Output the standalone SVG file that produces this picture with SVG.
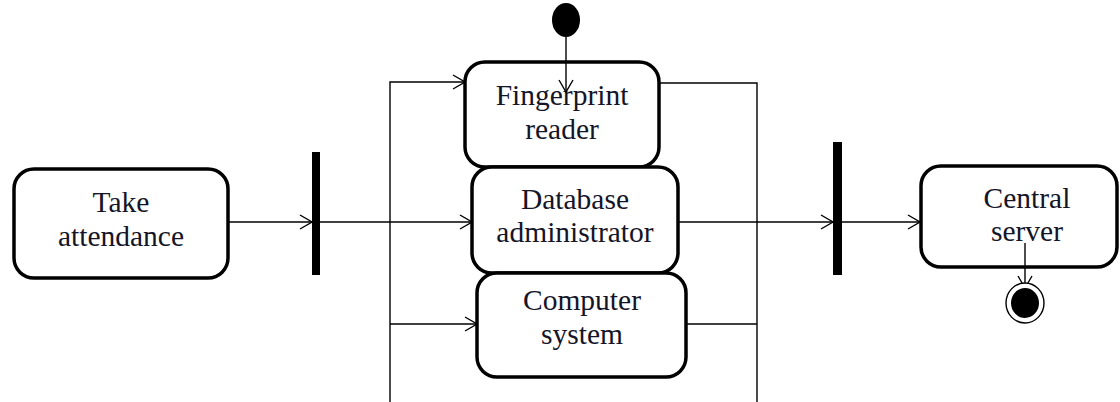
<svg xmlns="http://www.w3.org/2000/svg" width="1120" height="402" viewBox="0 0 1120 402">
<defs>
<marker id="arr" markerUnits="userSpaceOnUse" markerWidth="14" markerHeight="16" refX="13" refY="8" orient="auto">
<path d="M1,1 L13,8 L1,15" fill="none" stroke="#000" stroke-width="1.4"/>
</marker>
<style>
.box{fill:#fff;stroke:#000;stroke-width:3.5}
.t{font-family:"Liberation Serif","Times New Roman",serif;font-size:29.5px;fill:#151528;text-anchor:middle}
.c{fill:none;stroke:#000;stroke-width:1.4}
</style>
</defs>
<rect width="1120" height="402" fill="#fff"/>
<g id="connectors">
<path class="c" d="M228,222 H312" marker-end="url(#arr)"/>
<path class="c" d="M320,222 H472" marker-end="url(#arr)"/>
<path class="c" d="M390,402 V82 H465" marker-end="url(#arr)"/>
<path class="c" d="M390,324 H477" marker-end="url(#arr)"/>
<path class="c" d="M659,83 H757 V402"/>
<path class="c" d="M686,324 H757"/>
<path class="c" d="M678,222 H833" marker-end="url(#arr)"/>
<path class="c" d="M842,222 H920" marker-end="url(#arr)"/>
</g>
<g id="take-attendance">
<rect class="box" x="14" y="169" width="214" height="109" rx="20"/>
<text class="t" x="121" y="212">Take</text>
<text class="t" x="121" y="246">attendance</text>
</g>
<g id="fork-bar"><rect x="312" y="152" width="8" height="123" fill="#000"/></g>
<g id="fingerprint-reader">
<rect class="box" x="465" y="62" width="194" height="105" rx="20"/>
<text class="t" x="562" y="105">Fingerprint</text>
<text class="t" x="562" y="139">reader</text>
</g>
<g id="database-administrator">
<rect class="box" x="472" y="167" width="206" height="106" rx="20"/>
<text class="t" x="575" y="209">Database</text>
<text class="t" x="575" y="242">administrator</text>
</g>
<g id="computer-system">
<rect class="box" x="477" y="273" width="209" height="104" rx="20"/>
<text class="t" x="582" y="310">Computer</text>
<text class="t" x="582" y="344">system</text>
</g>
<g id="join-bar"><rect x="833" y="142" width="9" height="133" fill="#000"/></g>
<g id="central-server">
<rect class="box" x="921" y="166" width="196" height="101" rx="20"/>
<text class="t" x="1027" y="208">Central</text>
<text class="t" x="1027" y="241">server</text>
</g>
<g id="initial-node">
<ellipse cx="566" cy="20" rx="14" ry="17" fill="#000"/>
<path class="c" d="M566,37 V92" marker-end="url(#arr)"/>
</g>
<g id="final-node">
<path class="c" d="M1025,243 V288" marker-end="url(#arr)"/>
<ellipse cx="1025" cy="303" rx="19" ry="20" fill="#fff" stroke="#000" stroke-width="1.4"/>
<ellipse cx="1025" cy="303" rx="14" ry="15" fill="#000"/>
</g>
</svg>
